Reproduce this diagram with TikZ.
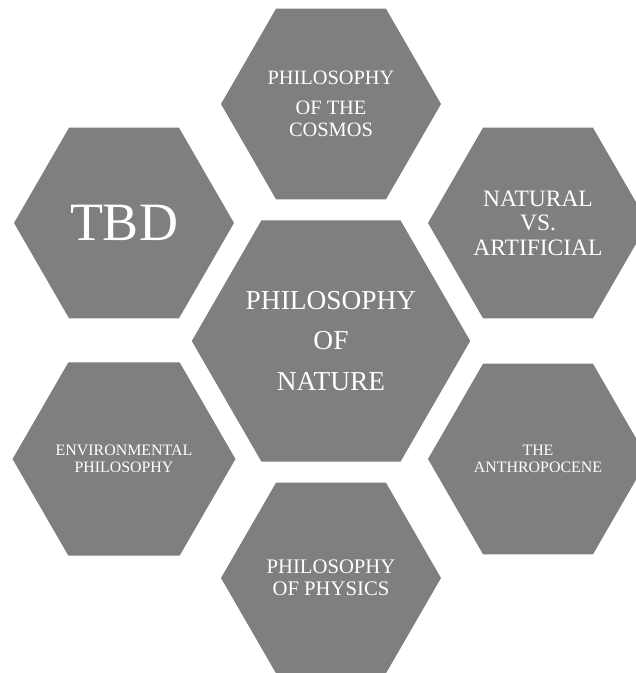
\documentclass[tikz,border=0pt]{standalone}
\usepackage{fontspec}
\setmainfont{Liberation Serif}
\usetikzlibrary{shapes.geometric}
\definecolor{hexgray}{HTML}{7F7F7F}
\begin{document}
\begin{tikzpicture}[x=1pt,y=-1pt,
  hexbox/.style={regular polygon, regular polygon sides=6, fill=hexgray, draw=none,
    inner sep=0pt, outer sep=0pt, text=white, align=center},
  smallhex/.style={hexbox, minimum size=220pt},
  bighex/.style={hexbox, minimum size=270pt}]
\useasboundingbox (0,0) rectangle (636,673);
\clip (0,0) rectangle (636,673);

\node[bighex, font={\fontsize{27.4}{40.5}\selectfont}] (nature) at (331,341)
  {PHILOSOPHY\\OF\\NATURE};
\node[smallhex, font={\fontsize{20.4}{22}\selectfont}] (cosmos) at (331,104)
  {PHILOSOPHY\\[8pt]OF THE\\COSMOS};
\node[smallhex, font={\fontsize{54}{60}\selectfont}] (tbd) at (124,223)
  {TBD};
\node[smallhex, font={\fontsize{23.5}{24.5}\selectfont}] (natural) at (538,223)
  {NATURAL\\VS.\\ARTIFICIAL};
\node[smallhex, font={\fontsize{15.9}{17}\selectfont}] (env) at (124,459)
  {ENVIRONMENTAL\\PHILOSOPHY};
\node[smallhex, font={\fontsize{15.9}{17.5}\selectfont}] (anthro) at (538,459)
  {THE\\ANTHROPOCENE};
\node[smallhex, font={\fontsize{20.7}{22}\selectfont}] (physics) at (331,578)
  {PHILOSOPHY\\OF PHYSICS};
\end{tikzpicture}
\end{document}
